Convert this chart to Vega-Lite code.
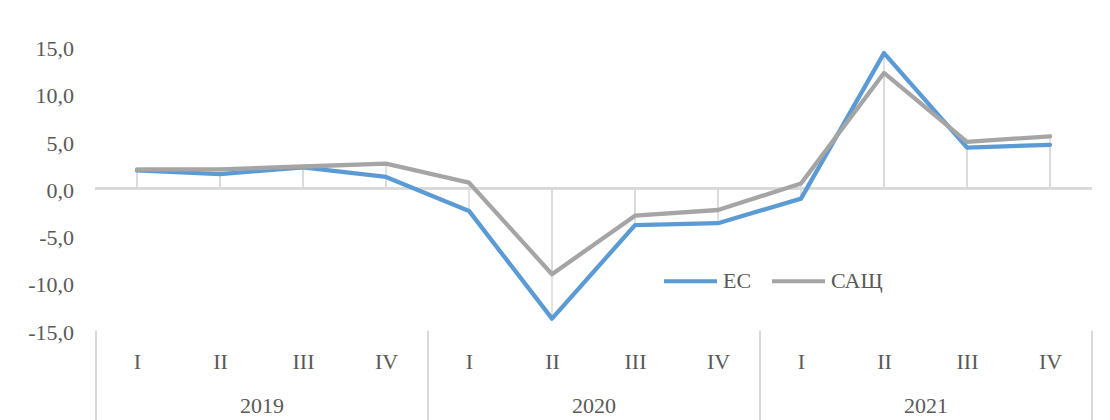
{
  "$schema": "https://vega.github.io/schema/vega-lite/v6.json",
  "width": 996,
  "height": 283.5,
  "autosize": {"type": "none"},
  "padding": {"left": 95.5, "top": 46.5, "right": 18.5, "bottom": 90},
  "background": "white",
  "config": {
    "view": {"stroke": null},
    "font": "Liberation Serif",
    "axis": {"labelFont": "Liberation Serif", "labelColor": "#595959", "labelFontSize": 22, "grid": false, "domain": false},
    "legend": {"labelFont": "Liberation Serif", "labelColor": "#595959", "labelFontSize": 22}
  },
  "data": {
    "values": [
      {"t": 0, "year": 2019, "quarter": "I", "series": "ЕС", "value": 1.9},
      {"t": 1, "year": 2019, "quarter": "II", "series": "ЕС", "value": 1.5},
      {"t": 2, "year": 2019, "quarter": "III", "series": "ЕС", "value": 2.2},
      {"t": 3, "year": 2019, "quarter": "IV", "series": "ЕС", "value": 1.2},
      {"t": 4, "year": 2020, "quarter": "I", "series": "ЕС", "value": -2.4},
      {"t": 5, "year": 2020, "quarter": "II", "series": "ЕС", "value": -13.8},
      {"t": 6, "year": 2020, "quarter": "III", "series": "ЕС", "value": -3.9},
      {"t": 7, "year": 2020, "quarter": "IV", "series": "ЕС", "value": -3.7},
      {"t": 8, "year": 2021, "quarter": "I", "series": "ЕС", "value": -1.1},
      {"t": 9, "year": 2021, "quarter": "II", "series": "ЕС", "value": 14.3},
      {"t": 10, "year": 2021, "quarter": "III", "series": "ЕС", "value": 4.3},
      {"t": 11, "year": 2021, "quarter": "IV", "series": "ЕС", "value": 4.6},
      {"t": 0, "year": 2019, "quarter": "I", "series": "САЩ", "value": 2.0},
      {"t": 1, "year": 2019, "quarter": "II", "series": "САЩ", "value": 2.0},
      {"t": 2, "year": 2019, "quarter": "III", "series": "САЩ", "value": 2.3},
      {"t": 3, "year": 2019, "quarter": "IV", "series": "САЩ", "value": 2.6},
      {"t": 4, "year": 2020, "quarter": "I", "series": "САЩ", "value": 0.6},
      {"t": 5, "year": 2020, "quarter": "II", "series": "САЩ", "value": -9.1},
      {"t": 6, "year": 2020, "quarter": "III", "series": "САЩ", "value": -2.9},
      {"t": 7, "year": 2020, "quarter": "IV", "series": "САЩ", "value": -2.3},
      {"t": 8, "year": 2021, "quarter": "I", "series": "САЩ", "value": 0.5},
      {"t": 9, "year": 2021, "quarter": "II", "series": "САЩ", "value": 12.2},
      {"t": 10, "year": 2021, "quarter": "III", "series": "САЩ", "value": 4.9},
      {"t": 11, "year": 2021, "quarter": "IV", "series": "САЩ", "value": 5.5}
    ]
  },
  "layer": [
    {
      "mark": {"type": "rule", "color": "#d9d9d9", "strokeWidth": 1.5},
      "encoding": {
        "x": {
          "field": "t", "type": "quantitative",
          "scale": {"domain": [-0.5, 11.5], "nice": false, "zero": false},
          "axis": {
            "orient": "bottom",
            "title": null,
            "values": [-0.5, 3.5, 7.5, 11.5],
            "labelExpr": "datum.value < 0 ? '2019' : datum.value < 4 ? '2020' : datum.value < 8 ? '2021' : ''",
            "labelOffset": 166,
            "labelFlush": false,
            "labelOverlap": false,
            "labelBound": false,
            "ticks": true,
            "tickSize": 90,
            "tickColor": "#d9d9d9",
            "tickWidth": 2,
            "labelPadding": -25,
            "labelAlign": "center"
          }
        },
        "y": {
          "field": "value", "type": "quantitative",
          "scale": {"domain": [-15, 15], "nice": false},
          "axis": {
            "orient": "left",
            "title": null,
            "values": [-15, -10, -5, 0, 5, 10, 15],
            "format": ".1f",
            "labelExpr": "replace(replace(datum.label, '.', ','), '\u2212', '-')",
            "ticks": false,
            "labelPadding": 22,
            "labelOffset": 2
          }
        },
        "y2": {"datum": 0}
      }
    },
    {
      "mark": {"type": "rule", "color": "#d9d9d9", "strokeWidth": 2},
      "encoding": {
        "y": {
          "datum": 0, "type": "quantitative",
          "axis": {
            "orient": "left",
            "title": null,
            "values": [-15, -10, -5, 0, 5, 10, 15],
            "format": ".1f",
            "labelExpr": "replace(replace(datum.label, '.', ','), '\u2212', '-')",
            "ticks": false,
            "labelPadding": 22,
            "labelOffset": 2
          }
        }
      }
    },
    {
      "mark": {"type": "line", "strokeWidth": 4.3, "strokeCap": "round", "strokeJoin": "round"},
      "encoding": {
        "x": {
          "field": "t", "type": "quantitative",
          "scale": {"domain": [-0.5, 11.5], "nice": false, "zero": false},
          "axis": {
            "orient": "bottom",
            "title": null,
            "values": [0, 1, 2, 3, 4, 5, 6, 7, 8, 9, 10, 11],
            "labelExpr": "['I','II','III','IV'][datum.value % 4]",
            "labelFlush": false,
            "labelOverlap": false,
            "labelBound": false,
            "ticks": false,
            "labelPadding": 21,
            "labelAlign": "center"
          }
        },
        "y": {
          "field": "value", "type": "quantitative",
          "scale": {"domain": [-15, 15], "nice": false},
          "axis": {
            "orient": "left",
            "title": null,
            "values": [-15, -10, -5, 0, 5, 10, 15],
            "format": ".1f",
            "labelExpr": "replace(replace(datum.label, '.', ','), '\u2212', '-')",
            "ticks": false,
            "labelPadding": 22,
            "labelOffset": 2
          }
        },
        "color": {
          "field": "series", "type": "nominal",
          "scale": {"domain": ["ЕС", "САЩ"], "range": ["#5B9BD5", "#A5A5A5"]},
          "legend": {
            "orient": "none",
            "legendX": 566.5,
            "legendY": 206,
            "direction": "horizontal",
            "title": null,
            "symbolType": "stroke",
            "symbolSize": 2809,
            "symbolStrokeWidth": 4,
            "labelOffset": 4,
            "columnPadding": 12
          }
        }
      }
    }
  ],
  "resolve": {"axis": {"x": "independent"}}
}
